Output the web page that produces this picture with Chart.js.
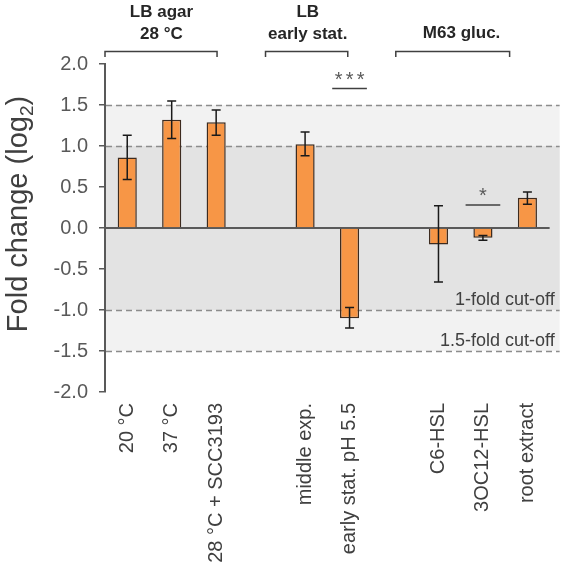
<!DOCTYPE html>
<html>
<head>
<meta charset="utf-8">
<script src="https://cdn.jsdelivr.net/npm/chart.js@4"></script>
<style>
  html, body { margin: 0; padding: 0; background: #fff; }
  #wrap { width: 563px; height: 577px; }
</style>
</head>
<body>
<div id="wrap"><canvas id="foldChart" width="563" height="577"></canvas></div>
<script>
// conditions (blank entries are the gaps between groups)
const categories = ['20 °C', '37 °C', '28 °C + SCC3193', '', 'middle exp.', 'early stat. pH 5.5', '', 'C6-HSL', '3OC12-HSL', 'root extract'];
const foldChange = [0.86, 1.32, 1.29, null, 1.02, -1.10, null, -0.20, -0.12, 0.37];
const errHigh = [1.13, 1.55, 1.44, null, 1.17, -0.97, null, 0.27, -0.09, 0.44];
const errLow = [0.59, 1.09, 1.13, null, 0.88, -1.22, null, -0.66, -0.15, 0.29];
const cutoffs = [1, 1.5];
const cutoffLabels = ['1-fold cut-off', '1.5-fold cut-off'];
const groupNames = [['LB agar', '28 °C'], ['LB', 'early stat.'], ['M63 gluc.']];
const sigMarks = ['***', '*'];
const sigAt = [5, 8];
const sigLevel = [1.7, 0.28];

// annotation layout, in category units
const groupSpan = [[-0.5, 2.02], [3.11, 4.96], [6.04, 8.6]];
const groupCenter = [0.77, 4.06, 7.52];

const FONT = '"Liberation Sans", Arial, sans-serif';
const GREY = '#595959';

const backdrop = {
    id: 'backdrop',
    beforeDatasetsDraw(chart) {
        const { ctx, chartArea: a, scales: { y } } = chart;
        const x0 = a.left + 1, x1 = a.right + 10;
        ctx.save();
        ctx.fillStyle = '#f2f2f2';
        ctx.fillRect(x0, y.getPixelForValue(cutoffs[1]), x1 - x0, y.getPixelForValue(-cutoffs[1]) - y.getPixelForValue(cutoffs[1]));
        ctx.fillStyle = '#e3e3e3';
        ctx.fillRect(x0, y.getPixelForValue(cutoffs[0]), x1 - x0, y.getPixelForValue(-cutoffs[0]) - y.getPixelForValue(cutoffs[0]));

        ctx.strokeStyle = '#8c8c8c';
        ctx.lineWidth = 1.5;
        ctx.setLineDash([6, 4]);
        cutoffs.forEach(c => {
            [c, -c].forEach(v => {
                const py = Math.round(y.getPixelForValue(v)) + 0.5;
                ctx.beginPath();
                ctx.moveTo(x0, py);
                ctx.lineTo(x1, py);
                ctx.stroke();
            });
        });
        ctx.setLineDash([]);

        ctx.fillStyle = '#404040';
        ctx.font = '18px ' + FONT;
        ctx.textAlign = 'right';
        ctx.textBaseline = 'alphabetic';
        cutoffs.forEach((c, i) => {
            ctx.fillText(cutoffLabels[i], a.right + 5, y.getPixelForValue(-c) - 5);
        });

        // zero line
        const z = y.getPixelForValue(0);
        ctx.strokeStyle = GREY;
        ctx.lineWidth = 2;
        ctx.beginPath();
        ctx.moveTo(a.left, z);
        ctx.lineTo(a.right, z);
        ctx.stroke();
        ctx.restore();
    }
};

const annotations = {
    id: 'annotations',
    afterDatasetsDraw(chart) {
        const { ctx, chartArea: a, scales: { x, y } } = chart;
        const meta = chart.getDatasetMeta(0);
        ctx.save();

        // error bars
        ctx.strokeStyle = '#1a1a1a';
        ctx.lineWidth = 1.5;
        foldChange.forEach((v, i) => {
            if (v === null) return;
            const px = meta.data[i].x;
            const hi = y.getPixelForValue(errHigh[i]);
            const lo = y.getPixelForValue(errLow[i]);
            ctx.beginPath();
            ctx.moveTo(px, hi); ctx.lineTo(px, lo);
            ctx.moveTo(px - 4.5, hi); ctx.lineTo(px + 4.5, hi);
            ctx.moveTo(px - 4.5, lo); ctx.lineTo(px + 4.5, lo);
            ctx.stroke();
        });

        // significance
        const step = x.getPixelForValue(1) - x.getPixelForValue(0);
        sigMarks.forEach((s, i) => {
            const cx = x.getPixelForValue(sigAt[i]);
            const py = y.getPixelForValue(sigLevel[i]);
            ctx.strokeStyle = '#404040';
            ctx.lineWidth = 1.5;
            ctx.beginPath();
            ctx.moveTo(cx - step * 0.39, py);
            ctx.lineTo(cx + step * 0.39, py);
            ctx.stroke();
            ctx.fillStyle = GREY;
            ctx.font = '20px ' + FONT;
            ctx.textAlign = 'center';
            ctx.textBaseline = 'alphabetic';
            const n = s.length;
            for (let k = 0; k < n; k++) {
                ctx.fillText('*', cx + (k - (n - 1) / 2) * 11, py - 3);
            }
        });

        // group headers with brackets
        const posAt = v => x.getPixelForValue(0) + v * step;
        ctx.strokeStyle = '#404040';
        ctx.lineWidth = 1.5;
        groupSpan.forEach(([f, t]) => {
            const xa = posAt(f), xb = posAt(t);
            ctx.beginPath();
            ctx.moveTo(xa, 57); ctx.lineTo(xa, 51.5); ctx.lineTo(xb, 51.5); ctx.lineTo(xb, 57);
            ctx.stroke();
        });
        ctx.fillStyle = '#262626';
        ctx.font = 'bold 17px ' + FONT;
        ctx.textAlign = 'center';
        ctx.textBaseline = 'middle';
        groupNames.forEach((lines, i) => {
            const cx = posAt(groupCenter[i]);
            const rows = lines.length === 1 ? [33] : [12, 34];
            lines.forEach((l, k) => ctx.fillText(l, cx, rows[k]));
        });

        // y title with subscript
        ctx.translate(27, (a.top + a.bottom) / 2 - 14);
        ctx.rotate(-Math.PI / 2);
        ctx.fillStyle = '#404040';
        ctx.textAlign = 'left';
        ctx.textBaseline = 'alphabetic';
        const main = 'Fold change (log', sub = '2', end = ')';
        ctx.font = '29px ' + FONT;
        const w1 = ctx.measureText(main).width, w3 = ctx.measureText(end).width;
        ctx.font = '19px ' + FONT;
        const w2 = ctx.measureText(sub).width;
        let sx = -(w1 + w2 + w3) / 2;
        ctx.font = '29px ' + FONT;
        ctx.fillText(main, sx, 0);
        ctx.font = '19px ' + FONT;
        ctx.fillText(sub, sx + w1, 6);
        ctx.font = '29px ' + FONT;
        ctx.fillText(end, sx + w1 + w2, 0);
        ctx.restore();
    }
};

new Chart(document.getElementById('foldChart'), {
    type: 'bar',
    data: {
        labels: categories,
        datasets: [{
            data: foldChange,
            backgroundColor: '#F79646',
            borderColor: '#3d2b1f',
            borderWidth: 1.5,
            barPercentage: 0.43,
            categoryPercentage: 1
        }]
    },
    options: {
        responsive: false,
        animation: false,
        layout: { padding: { top: 64, right: 12, bottom: 0, left: 0 } },
        plugins: { legend: { display: false }, tooltip: { enabled: false } },
        scales: {
            x: {
                grid: { display: false, drawTicks: false },
                border: { display: false },
                ticks: {
                    autoSkip: false,
                    minRotation: 90,
                    maxRotation: 90,
                    padding: 11,
                    color: '#404040',
                    font: { family: FONT, size: 20 }
                },
                afterFit(s) { s.height = 185; }
            },
            y: {
                min: -2,
                max: 2,
                grid: { drawOnChartArea: false, drawTicks: true, tickLength: 6, color: GREY, lineWidth: 1.5 },
                border: { color: GREY, width: 2 },
                ticks: {
                    stepSize: 0.5,
                    padding: 11,
                    color: GREY,
                    font: { family: FONT, size: 20 },
                    callback: v => v.toFixed(1)
                },
                afterFit(s) { s.width = 105; }
            }
        }
    },
    plugins: [backdrop, annotations]
});
</script>
</body>
</html>
